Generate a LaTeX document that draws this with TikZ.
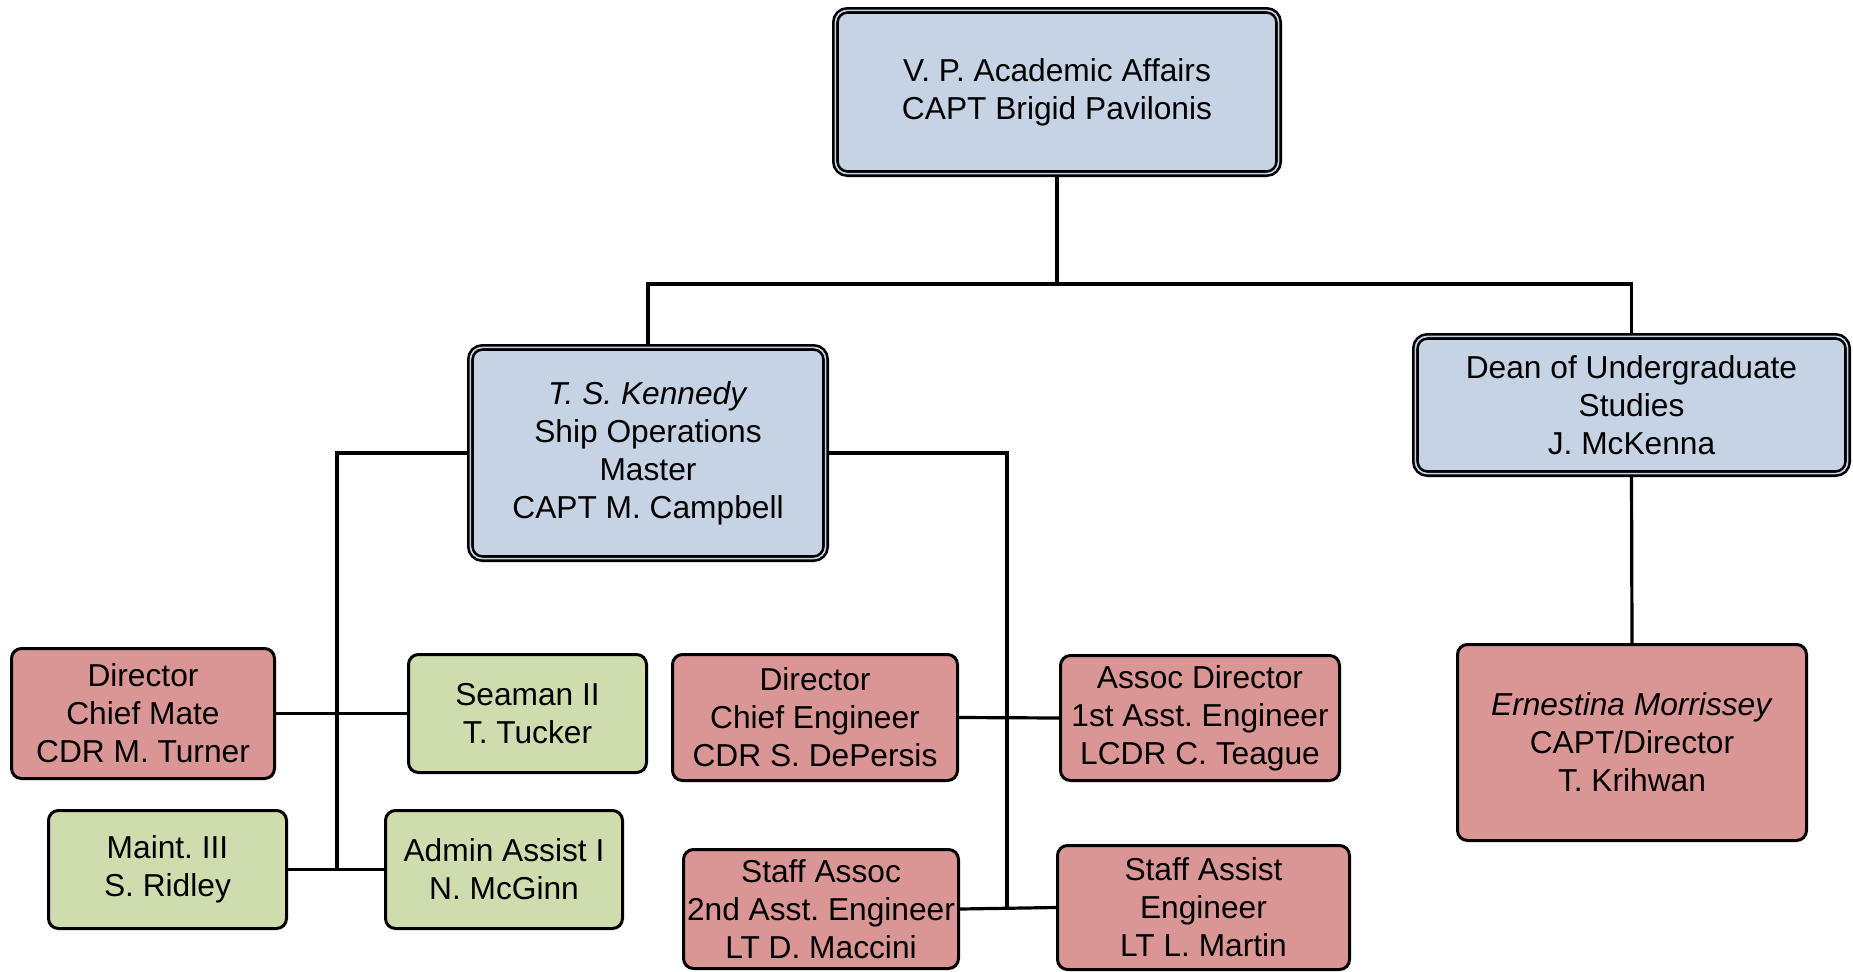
\documentclass[tikz,border=0pt]{standalone}
\usepackage{fontspec}
\setmainfont{Liberation Sans}
\frenchspacing
\definecolor{blueF}{HTML}{C5D3E4}
\definecolor{redF}{HTML}{D99694}
\definecolor{greenF}{HTML}{CFDDAE}
\tikzset{
  txt/.style={align=center, inner sep=0pt, font=\fontsize{31.7}{38}\selectfont\frenchspacing, text=black},
  dbl/.style={txt, draw=black, line width=2.6pt, double=blueF, double distance=1.6pt, fill=blueF, rounded corners=12pt},
  redbox/.style={txt, draw=black, line width=3pt, fill=redF, rounded corners=10pt},
  greenbox/.style={txt, draw=black, line width=3pt, fill=greenF, rounded corners=10pt},
  conn/.style={draw=black, line width=3.2pt},
  sz/.style 2 args={minimum width=#1, minimum height=#2}
}
\begin{document}
\begin{tikzpicture}[x=1pt, y=-1pt]
\useasboundingbox (0,0) rectangle (1853,972);
% blue boxes (outer size minus 6.8)
\node[dbl, sz={443.2pt}{163.2pt}] (vp) at (1057,92) {V. P. Academic Affairs\\CAPT Brigid Pavilonis};
\node[dbl, sz={355.2pt}{211.2pt}] (ken) at (648,453) {\textit{T. S. Kennedy}\\Ship Operations\\Master\\CAPT M. Campbell};
\node[dbl, sz={432.2pt}{137.2pt}] (dean) at (1631.5,405) {Dean of Undergraduate\\Studies\\J. McKenna};
% red boxes (outer size minus 3)
\node[redbox, sz={349pt}{196pt}] (mor) at (1632,742.5) {\textit{Ernestina Morrissey}\\CAPT/Director\\T. Krihwan};
\node[redbox, sz={263pt}{130pt}] (cm) at (143,713.5) {Director\\Chief Mate\\CDR M. Turner};
\node[redbox, sz={285pt}{126pt}] (ce) at (815,717.5) {Director\\Chief Engineer\\CDR S. DePersis};
\node[redbox, sz={279pt}{125pt}] (ad) at (1200,718) {Assoc Director\\1st Asst. Engineer\\LCDR C. Teague};
\node[redbox, sz={275pt}{119pt}] (sa) at (821,909) {Staff Assoc\\2nd Asst. Engineer\\LT D. Maccini};
\node[redbox, sz={292pt}{124pt}] (sas) at (1203.5,907.5) {Staff Assist\\Engineer\\LT L. Martin};
% green boxes
\node[greenbox, sz={238pt}{118pt}] (sea) at (527.5,713.5) {Seaman II\\T. Tucker};
\node[greenbox, sz={238pt}{118pt}] (maint) at (167.5,869.5) {Maint. III\\S. Ridley};
\node[greenbox, sz={237pt}{118pt}] (admin) at (504,869.5) {Admin Assist I\\N. McGinn};
% junction coordinates
\coordinate (bus) at (0,284);
\coordinate (lbot) at (337,869.5);
\coordinate (rbot) at (1007,908);
% connectors
\draw[conn] (vp.south) -- (vp.south |- bus);
\draw[conn] (ken.north) -- (ken.north |- bus) -- (dean.north |- bus) -- (dean.north);
\draw[conn] (dean.south) -- (mor.north);
\draw[conn] (ken.west) -| (lbot);
\draw[conn] (cm.east) -- (sea.west);
\draw[conn] (maint.east) -- (admin.west);
\draw[conn] (ken.east) -| (rbot);
\draw[conn] (ce.east) -- (ad.west);
\draw[conn] (sa.east) -- (sas.west);
\end{tikzpicture}
\end{document}
